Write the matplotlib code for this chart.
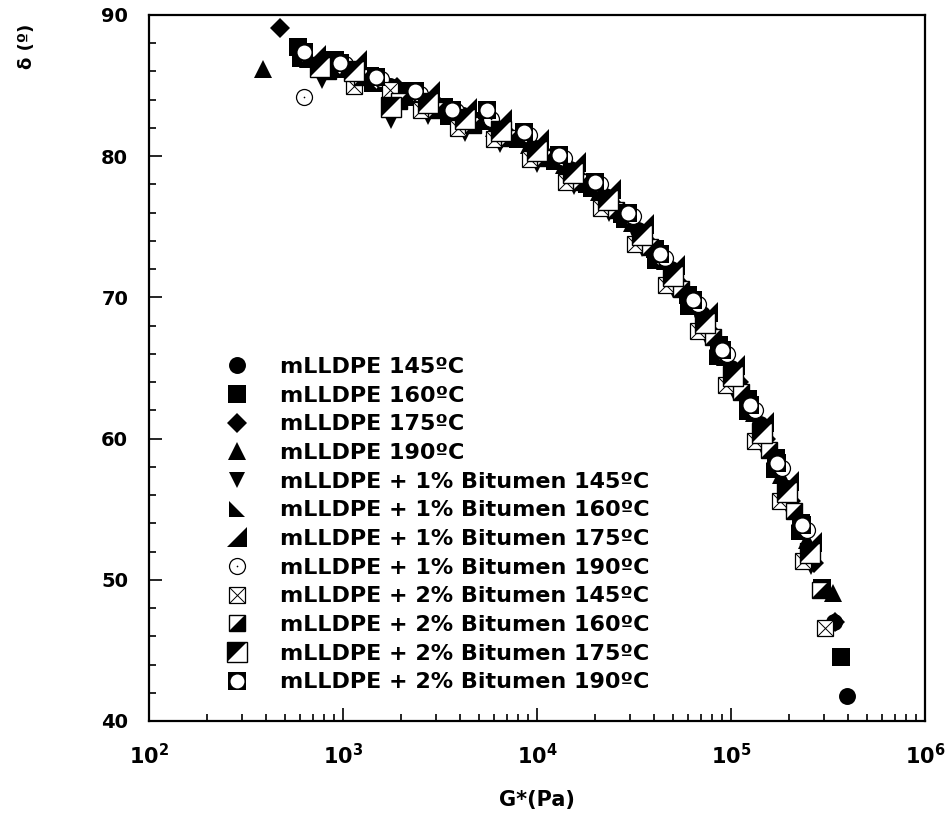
import numpy as np
import matplotlib
matplotlib.use("Agg")
import matplotlib.pyplot as plt
from matplotlib.path import Path
from matplotlib.ticker import MultipleLocator, LogLocator, NullFormatter

plt.rcParams["font.family"] = ["DejaVu Sans"]
plt.rcParams["font.weight"] = "bold"

# complex modulus G* (Pa) and phase angle delta (deg)
g_145 = [1122, 1738, 2692, 4169, 6457, 9772, 14790, 22390, 33110, 48980,
         70790, 100000, 141300, 195000, 257000, 340000, 398100]
d_145 = [86.0, 85.0, 84.0, 82.9, 81.8, 80.6, 79.1, 77.2, 74.8, 72.0,
         68.8, 65.0, 61.0, 56.5, 52.0, 47.0, 41.8]

g_160 = [589, 912, 1380, 2138, 3311, 5129, 7943, 12020, 18200, 27540,
         40740, 60260, 87100, 123000, 169800, 229100, 295100, 369000]
d_160 = [87.7, 86.8, 85.7, 84.6, 83.5, 82.5, 81.2, 79.9, 78.0, 75.9,
         73.4, 70.2, 66.6, 62.8, 58.6, 54.0, 49.4, 44.5]

g_175 = [473, 794, 1230, 1905, 2951, 4571, 7079, 10720, 16220, 24550,
         36310, 53700, 77620, 109600, 151400, 204200, 269200, 343600]
d_175 = [89.1, 86.6, 85.9, 84.9, 83.9, 82.8, 81.6, 80.3, 78.6, 76.6,
         74.1, 71.0, 67.6, 64.0, 60.0, 55.6, 51.2, 47.0]

g_190 = [387, 661, 1047, 1622, 2512, 3890, 6026, 9120, 13800, 20890,
         30900, 45710, 66070, 93330, 131800, 182000, 245500, 335700]
d_190 = [86.2, 86.9, 86.2, 85.2, 84.3, 83.1, 82.0, 80.8, 79.4, 77.5,
         75.3, 72.6, 69.4, 65.8, 61.8, 57.4, 52.8, 49.1]

g_b1_145 = [776, 1175, 1778, 2754, 4266, 6457, 10000, 15490, 23440, 34670,
            50120, 74130, 102300, 144500, 195000, 257000]
d_b1_145 = [85.3, 85.0, 82.5, 82.8, 81.6, 80.8, 79.4, 77.8, 75.9, 73.4,
            70.5, 67.2, 63.4, 59.4, 55.2, 50.9]

g_b1_160 = [603, 923, 1413, 2239, 3467, 5248, 8128, 12300, 19050, 28180,
            40740, 60260, 85110, 120200, 166000, 223900]
d_b1_160 = [86.9, 86.1, 85.1, 84.1, 82.8, 82.6, 81.2, 79.6, 77.7, 75.5,
            72.6, 69.3, 65.8, 61.9, 57.8, 53.4]

g_b1_175 = [724, 1175, 1820, 2818, 4365, 6607, 10230, 15850, 23990, 35480,
            51290, 75860, 104700, 147900, 199500, 263000]
d_b1_175 = [87.2, 86.8, 84.3, 84.6, 83.4, 82.6, 81.2, 79.6, 77.7, 75.2,
            72.3, 69.0, 65.2, 61.2, 57.0, 52.7]

g_b1_190 = [631, 1023, 1567, 2483, 3846, 5821, 9078, 13740, 21090, 31190,
            45600, 67450, 95280, 132700, 182800, 246000]
d_b1_190 = [84.2, 86.5, 85.5, 84.4, 83.2, 82.6, 81.5, 79.9, 78.0, 75.8,
            72.8, 69.5, 66.0, 62.0, 57.9, 53.5]

g_b2_145 = [1140, 1746, 2512, 3917, 5998, 9204, 14130, 21380, 31990,
            46240, 67610, 94190, 133000, 179100, 235000, 305500]
d_b2_145 = [85.0, 84.7, 83.3, 82.0, 81.2, 79.8, 78.2, 76.3, 73.8,
            70.9, 67.6, 63.8, 59.8, 55.6, 51.3, 46.6]

g_b2_160 = [832, 1259, 1950, 3020, 4677, 7161, 10960, 16790, 25410, 38020,
            54950, 80350, 112200, 156700, 211300, 287700]
d_b2_160 = [86.0, 85.6, 83.9, 83.3, 82.2, 81.3, 79.9, 78.2, 76.2, 73.6,
            70.6, 67.2, 63.3, 59.2, 54.9, 49.3]

g_b2_175 = [760, 1140, 1766, 2742, 4256, 6516, 10000, 15350, 23230, 34750,
            50230, 73450, 102300, 144500, 194500, 255300]
d_b2_175 = [86.3, 86.0, 83.5, 83.8, 82.6, 81.8, 80.4, 78.8, 76.9, 74.4,
            71.5, 68.2, 64.4, 60.4, 56.2, 51.9]

g_b2_190 = [630, 966, 1479, 2350, 3648, 5521, 8570, 12970, 19910, 29440,
            43050, 63680, 89950, 125300, 172600, 232300]
d_b2_190 = [87.4, 86.6, 85.6, 84.6, 83.3, 83.3, 81.7, 80.1, 78.2, 76.0,
            73.1, 69.8, 66.3, 62.4, 58.3, 53.9]

labels = ["mLLDPE 145ºC", "mLLDPE 160ºC", "mLLDPE 175ºC", "mLLDPE 190ºC",
          "mLLDPE + 1% Bitumen 145ºC", "mLLDPE + 1% Bitumen 160ºC",
          "mLLDPE + 1% Bitumen 175ºC", "mLLDPE + 1% Bitumen 190ºC",
          "mLLDPE + 2% Bitumen 145ºC", "mLLDPE + 2% Bitumen 160ºC",
          "mLLDPE + 2% Bitumen 175ºC", "mLLDPE + 2% Bitumen 190ºC"]

# half-square and cross marker shapes
tri_ll = Path([(-1, 1), (-1, -1), (1, -1), (-1, 1)], closed=True)   # black lower-left
tri_lr = Path([(1, 1), (1, -1), (-1, -1), (1, 1)], closed=True)     # black lower-right
tri_ul = Path([(-1, -1), (-1, 1), (1, 1), (-1, -1)], closed=True)   # black upper-left
cross = Path([(-1, -1), (1, 1), (-1, 1), (1, -1)],
             [Path.MOVETO, Path.LINETO, Path.MOVETO, Path.LINETO])

K = "black"
W = "white"
styles = [
    [dict(marker="o", ms=12.2, mfc=K, mec=K, mew=0)],
    [dict(marker="s", ms=13, mfc=K, mec=K, mew=0)],
    [dict(marker="D", ms=10.5, mfc=K, mec=K, mew=0)],
    [dict(marker="^", ms=12.5, mfc=K, mec=K, mew=0)],
    [dict(marker="v", ms=11, mfc=K, mec=K, mew=0)],
    [dict(marker=tri_ll, ms=12, mfc=K, mec=K, mew=0)],
    [dict(marker=tri_lr, ms=15, mfc=K, mec=K, mew=0)],
    [dict(marker="o", ms=11.5, mfc=W, mec=K, mew=0.9),
     dict(marker="o", ms=1.2, mfc=K, mec=K, mew=0)],
    [dict(marker="s", ms=11, mfc=W, mec=K, mew=0.9),
     dict(marker=cross, ms=11, mfc="none", mec=K, mew=0.7)],
    [dict(marker="s", ms=11.5, mfc=W, mec=K, mew=1.0),
     dict(marker=tri_lr, ms=11.5, mfc=K, mec=K, mew=0)],
    [dict(marker="s", ms=15, mfc=W, mec=K, mew=1.0),
     dict(marker=tri_ul, ms=15, mfc=K, mec=K, mew=0)],
    [dict(marker="s", ms=12.5, mfc=K, mec=K, mew=0),
     dict(marker="o", ms=10, mfc=W, mec=W, mew=0)],
]

series = [(g_145, d_145), (g_160, d_160), (g_175, d_175), (g_190, d_190),
          (g_b1_145, d_b1_145), (g_b1_160, d_b1_160),
          (g_b1_175, d_b1_175), (g_b1_190, d_b1_190),
          (g_b2_145, d_b2_145), (g_b2_160, d_b2_160),
          (g_b2_175, d_b2_175), (g_b2_190, d_b2_190)]

fig = plt.figure(figsize=(9.47, 8.25), dpi=100)
ax = fig.add_axes([149 / 947, 1 - 721 / 825, 776 / 947, 706 / 825])

handles = []
for (g, d), layers in zip(series, styles):
    lines = []
    for kw in layers:
        ln, = ax.plot(g, d, ls="none", **kw)
        lines.append(ln)
    handles.append(tuple(lines))

ax.set_xscale("log")
ax.set_xlim(1e2, 1e6)
ax.set_ylim(40, 90)
ax.yaxis.set_major_locator(MultipleLocator(10))
ax.yaxis.set_minor_locator(MultipleLocator(2))
ax.xaxis.set_major_locator(LogLocator(base=10, numticks=10))
ax.xaxis.set_minor_locator(LogLocator(base=10, subs=np.arange(2, 10), numticks=10))
ax.xaxis.set_minor_formatter(NullFormatter())

ax.tick_params(which="both", direction="in", top=False, right=False, width=1.2)
ax.tick_params(which="major", length=9.5)
ax.tick_params(which="minor", length=5)
ax.tick_params(axis="y", labelsize=14, pad=15)
ax.tick_params(axis="x", labelsize=15, pad=16)
for sp in ax.spines.values():
    sp.set_linewidth(1.6)

ax.set_xlabel("G*(Pa)", fontsize=15, fontweight="bold")
ax.xaxis.set_label_coords(0.5, -0.098)
ax.set_ylabel("δ (º)", fontsize=13, fontweight="bold")
ax.yaxis.set_label_coords(-0.146, 0.956)

leg = ax.legend(handles, labels, loc="upper left",
                bbox_to_anchor=(226 / 947, 1 - 357 / 825),
                bbox_transform=fig.transFigure, frameon=False,
                fontsize=16, handlelength=1.0, handletextpad=1.45,
                labelspacing=0.39, borderpad=0, borderaxespad=0)
for t in leg.get_texts():
    t.set_fontweight("bold")

fig.savefig("out.png", dpi=100)
